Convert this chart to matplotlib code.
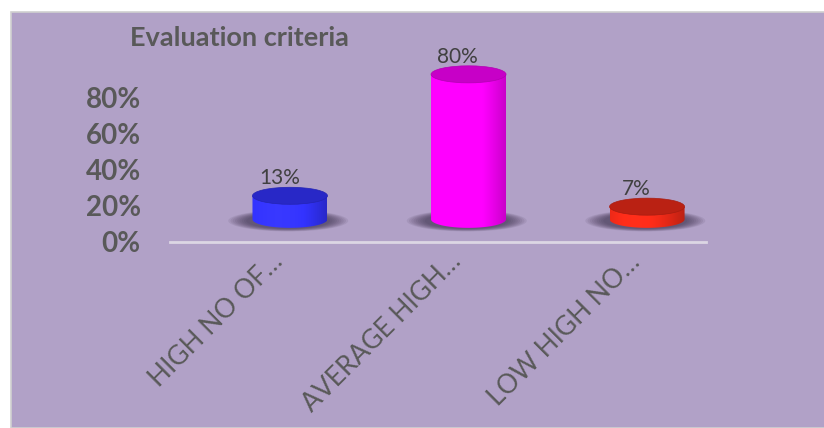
import matplotlib

matplotlib.use("Agg")
import matplotlib.pyplot as plt
import matplotlib.transforms as mtransforms
import numpy as np
from matplotlib.patches import Ellipse, PathPatch, Rectangle
from matplotlib.path import Path
import matplotlib.colors as mcolors

categories = ["HIGH NO OF…", "AVERAGE HIGH…", "LOW HIGH NO…"]
values = [0.13, 0.80, 0.07]
labels = ["13%", "80%", "7%"]
bar_colors = ["#3333ff", "#ff00ff", "#ee2a18"]
yticks = [0.0, 0.2, 0.4, 0.6, 0.8]
ytick_labels = ["0%", "20%", "40%", "60%", "80%"]

BG = "#b1a1c7"
TXT = "#595959"
FLOOR = 0.125    # cylinders float above the axis line (3D perspective)
HALF_W = 0.21    # cylinder radius in x data units
ELL_H = 0.047    # ellipse half-height in y data units

plt.rcParams["font.family"] = ["Lato", "DejaVu Sans"]

fig = plt.figure(figsize=(8.24, 4.28), dpi=100)
fig.patch.set_facecolor("white")
# chart area panel
fig.add_artist(Rectangle((11 / 824, 0), 1, 1 - 12 / 428, transform=fig.transFigure,
                         facecolor=BG, edgecolor="#d0d0d0", lw=1.2, zorder=0))

# axes: x 170..706 px, y 0% at 242 px
ax = fig.add_axes([170 / 824, 1 - 242 / 428, 536 / 824, 192 / 428])
ax.set_facecolor("none")
ax.set_xlim(-0.672, 2.33)
ax.set_ylim(0, 192 / 181.25)
for s in ax.spines.values():
    s.set_visible(False)
ax.axhline(0, color="#dcd6e4", lw=2, clip_on=False)

ax.set_yticks(yticks)
ax.set_yticklabels(ytick_labels, fontsize=20, fontweight="bold", color=TXT)
ax.tick_params(axis="y", length=0, pad=21)
ax.set_xticks(range(len(categories)))
ax.set_xticklabels(categories, rotation=45, ha="right", rotation_mode="anchor",
                   fontsize=19, color=TXT)
ax.tick_params(axis="x", length=0, pad=5)
shift = mtransforms.ScaledTranslation(-20 / 100, 0, fig.dpi_scale_trans)
for tl in ax.get_xticklabels():
    tl.set_transform(tl.get_transform() + shift)


def shade(c, f):
    r = np.array(mcolors.to_rgb(c))
    return np.clip(r * f, 0, 1)


for i, (v, c, lab) in enumerate(zip(values, bar_colors, labels)):
    b = FLOOR
    t = FLOOR + v
    # soft shadow under the base
    for k in range(9):
        ax.add_patch(Ellipse((i - 0.01, b - 0.008), 2 * HALF_W * (1.6 - 0.06 * k),
                             2 * ELL_H * (1.25 - 0.04 * k), facecolor="#2e2640",
                             alpha=0.09, lw=0, zorder=1))
    # side of cylinder with horizontal gradient
    th = np.linspace(np.pi, 2 * np.pi, 60)
    xs = np.concatenate([[i - HALF_W], i + HALF_W * np.cos(th), [i + HALF_W]])
    ys = np.concatenate([[t], b + ELL_H * np.sin(th), [t]])
    path = Path(np.column_stack([xs, ys]))
    patch = PathPatch(path, facecolor="none", lw=0)
    ax.add_patch(patch)
    xx = np.linspace(-1, 1, 200)
    fac = 0.78 + 0.32 * np.cos(xx * 1.2 + 0.35)
    grad = np.array([shade(c, f) for f in fac])[None, :, :]
    im = ax.imshow(grad, extent=[i - HALF_W, i + HALF_W, b - ELL_H, t],
                   aspect="auto", zorder=2, interpolation="bilinear")
    im.set_clip_path(patch)
    # top cap
    ax.add_patch(Ellipse((i, t), 2 * HALF_W, 2 * ELL_H, facecolor=shade(c, 0.78),
                         edgecolor=shade(c, 0.7), lw=0.5, zorder=3))
    ax.text(i - 0.06, t + ELL_H - 0.005, lab, ha="center", va="bottom",
            fontsize=15, color="#404040", zorder=4)

ax.set_title("Evaluation criteria", fontsize=19.5, fontweight="bold", color=TXT,
             pad=0, loc="center")
ax.title.set_position(((239 - 170) / 536, (242 - 36) / 192))
ax.title.set_va("center")

fig.savefig("out.png", dpi=100, facecolor=fig.get_facecolor())
